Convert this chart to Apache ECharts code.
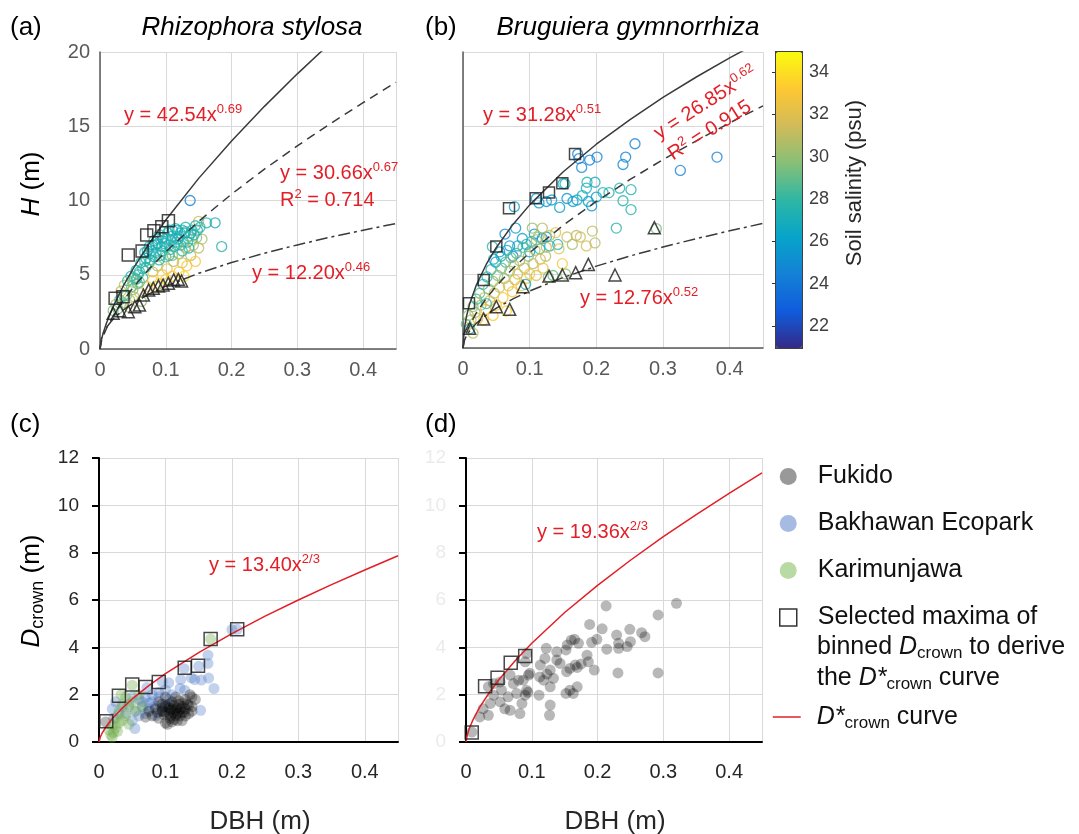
<!DOCTYPE html>
<html>
<head>
<meta charset="utf-8">
<script src="https://cdn.jsdelivr.net/npm/echarts@6/dist/echarts.min.js"></script>
<style>
  html, body { margin: 0; padding: 0; background: #fff; }
  #grafico { width: 1079px; height: 834px; }
</style>
</head>
<body>
<div id="grafico"></div>
<script>
// Paleta tipo parula para la salinidad del suelo (psu)
const parula = ['#352a87', '#0f5cdd', '#1481d6', '#06a4ca', '#2eb7a4', '#87bf77', '#d1bb59', '#fec832', '#f9fb0e'];
const salMin = 21, salMax = 35;
const salTicks = [22, 24, 26, 28, 30, 32, 34];

// Puntos leídos sobre las curvas ajustadas
const curvaX = [0, 0.002, 0.005, 0.01, 0.02, 0.035, 0.05, 0.075, 0.1, 0.15, 0.2, 0.25, 0.3, 0.35, 0.4, 0.45];
const aMax = [0, 0.58, 1.10, 1.77, 2.86, 4.21, 5.38, 7.12, 8.69, 11.49, 14.01, 16.34, 18.53, 20.6, 22.6, 24.5];
const aMedia = [0, 0.48, 0.88, 1.40, 2.23, 3.24, 4.12, 5.41, 6.55, 8.60, 10.43, 12.11, 13.68, 15.17, 16.59, 17.96];
const aMin = [0, 0.70, 1.07, 1.47, 2.02, 2.61, 3.08, 3.71, 4.23, 5.10, 5.82, 6.45, 7.01, 7.53, 8.00, 8.45];
const bMax = [0, 1.31, 2.10, 2.99, 4.25, 5.66, 6.79, 8.35, 9.67, 11.89, 13.77, 15.42, 16.93, 18.31, 19.60, 20.82];
const bMedia = [0, 0.57, 1.00, 1.54, 2.37, 3.36, 4.19, 5.39, 6.44, 8.28, 9.90, 11.37, 12.73, 14.00, 15.21, 16.36];
const bMin = [0, 0.50, 0.81, 1.16, 1.67, 2.23, 2.69, 3.32, 3.85, 4.76, 5.53, 6.21, 6.82, 7.39, 7.92, 8.42];
const cCurva = [0, 0.21, 0.39, 0.62, 0.99, 1.43, 1.82, 2.38, 2.89, 3.78, 4.58, 5.32, 6.00, 6.65, 7.27, 7.87];
const dCurva = [0, 0.31, 0.57, 0.90, 1.43, 2.07, 2.63, 3.44, 4.17, 5.47, 6.62, 7.68, 8.68, 9.61, 10.51, 11.37];

// (a) Rhizophora stylosa
const aDbh = [0.020, 0.024, 0.027, 0.030, 0.032, 0.035, 0.037, 0.040, 0.042, 0.045,
  0.047, 0.050, 0.052, 0.055, 0.057, 0.060, 0.062, 0.065, 0.068, 0.070,
  0.072, 0.075, 0.077, 0.080, 0.080, 0.082, 0.085, 0.087, 0.090, 0.090,
  0.093, 0.095, 0.097, 0.100, 0.100, 0.102, 0.105, 0.107, 0.110, 0.110,
  0.112, 0.115, 0.117, 0.120, 0.120, 0.122, 0.125, 0.127, 0.130, 0.130,
  0.132, 0.135, 0.137, 0.138, 0.140, 0.142, 0.145, 0.147, 0.150, 0.150,
  0.152, 0.155, 0.162, 0.175, 0.185, 0.128, 0.063, 0.045, 0.036, 0.058,
  0.075, 0.095, 0.085, 0.070, 0.088, 0.105, 0.118, 0.125, 0.140, 0.110,
  0.060, 0.050, 0.100, 0.145,
  0.078, 0.083, 0.088, 0.092, 0.098, 0.103, 0.108, 0.113, 0.118, 0.123,
  0.128, 0.133, 0.138, 0.143, 0.148, 0.065, 0.072, 0.080, 0.055, 0.048,
  0.090, 0.095, 0.100, 0.105, 0.110, 0.115, 0.120, 0.125, 0.130, 0.135,
  0.085, 0.075, 0.068, 0.060, 0.052];
const aAltura = [2.6, 3.0, 2.7, 3.3, 3.9, 3.1, 4.3, 3.6, 4.6, 3.3,
  4.9, 4.0, 3.5, 5.3, 4.4, 3.8, 5.8, 4.8, 6.5, 5.5,
  4.2, 6.9, 6.0, 4.6, 5.2, 7.3, 6.5, 5.6, 7.7, 4.4,
  6.9, 5.0, 7.9, 6.2, 7.4, 5.4, 8.0, 6.7, 4.9, 7.6,
  5.9, 8.1, 7.0, 6.4, 5.2, 7.8, 5.8, 7.2, 8.2, 6.8,
  5.6, 7.6, 10.0, 6.3, 8.0, 7.0, 5.9, 7.5, 8.6, 6.8,
  8.2, 7.4, 8.5, 8.5, 6.9, 4.9, 3.2, 2.8, 3.6, 5.0,
  5.8, 6.6, 4.2, 6.1, 7.1, 7.0, 7.4, 8.0, 7.4, 6.3,
  4.5, 4.5, 4.7, 8.3,
  6.6, 6.2, 7.4, 6.3, 7.1, 7.8, 7.3, 6.9, 8.0, 7.0,
  7.8, 7.2, 7.8, 7.7, 8.0, 5.4, 6.6, 7.0, 4.7, 4.2,
  6.0, 7.5, 6.9, 6.3, 8.0, 7.2, 7.6, 6.6, 7.9, 6.8,
  7.0, 6.4, 5.9, 5.2, 4.8];
const aSalinidad = [29.5, 30, 29, 28.5, 31, 30, 31, 29, 28, 30.5,
  28, 29.5, 31, 27.5, 28.5, 32, 27.5, 28, 27.5, 28,
  33, 27.5, 28, 33, 32, 27.5, 28, 30, 27.5, 33.5,
  28, 33, 27.5, 29, 28, 32.5, 27.5, 28, 33, 27.5,
  31, 27.5, 28.5, 30, 33, 27.5, 32, 29, 28, 30.5,
  33, 28, 24.5, 31, 27.5, 30.5, 33, 30, 31.5, 31,
  28, 30.5, 27.5, 27, 27.5, 34, 30, 31, 28, 27.5,
  28.5, 27.5, 31, 27, 27, 27.5, 27, 27.5, 29, 29.5,
  29, 30.5, 33.5, 27.5,
  27.5, 27, 27.5, 28, 27, 27.5, 27, 27.5, 27, 27.5,
  27, 27.5, 27, 27.5, 27, 28, 27, 27, 28, 29,
  27.5, 27, 27.5, 28, 27, 27.5, 27, 28, 27.5, 28,
  27, 27.5, 28, 28, 28.5];
const aCuadX = [0.023, 0.035, 0.043, 0.064, 0.071, 0.082, 0.094, 0.104];
const aCuadY = [3.41, 3.52, 6.33, 6.60, 7.68, 7.96, 8.24, 8.64];
const aTriX = [0.020, 0.030, 0.043, 0.053, 0.060, 0.066, 0.074, 0.081, 0.089, 0.096, 0.104, 0.112, 0.119, 0.124];
const aTriY = [2.40, 2.58, 2.51, 2.85, 2.96, 3.63, 3.97, 4.09, 4.24, 4.31, 4.42, 4.65, 4.69, 4.58];

// (b) Bruguiera gymnorrhiza
const bDbh = [0.258, 0.244, 0.240, 0.201, 0.190, 0.178, 0.174, 0.326, 0.381, 0.172,
  0.077, 0.114, 0.125, 0.133, 0.145, 0.156, 0.165, 0.171, 0.179, 0.186,
  0.198, 0.193, 0.188, 0.210, 0.219, 0.235, 0.240, 0.252, 0.252, 0.230,
  0.153, 0.200, 0.185, 0.110, 0.150, 0.079, 0.089, 0.107, 0.119, 0.130,
  0.142, 0.100, 0.082, 0.075, 0.044, 0.063, 0.055, 0.046, 0.070, 0.095,
  0.115, 0.125, 0.104, 0.119, 0.139, 0.156, 0.176, 0.194, 0.198, 0.164,
  0.144, 0.124, 0.149, 0.154, 0.135, 0.290, 0.110, 0.130, 0.170, 0.185,
  0.005, 0.008, 0.012, 0.015, 0.018, 0.020, 0.022, 0.025, 0.027, 0.030,
  0.032, 0.034, 0.036, 0.038, 0.040, 0.042, 0.045, 0.047, 0.049, 0.050,
  0.052, 0.055, 0.057, 0.058, 0.060, 0.062, 0.064, 0.066, 0.068, 0.070,
  0.072, 0.074, 0.076, 0.078, 0.080, 0.082, 0.085, 0.087, 0.090, 0.092,
  0.095, 0.098, 0.100, 0.103, 0.105, 0.108, 0.110, 0.113, 0.116, 0.120,
  0.125, 0.128, 0.035, 0.031, 0.045, 0.065, 0.010, 0.015, 0.094];
const bAltura = [13.8, 12.9, 12.4, 12.9, 12.7, 12.2, 12.8, 12.0, 12.9, 13.1,
  9.55, 9.8, 9.9, 10.0, 9.5, 10.1, 9.9, 10.0, 10.3, 11.2,
  11.2, 9.6, 9.9, 10.5, 10.5, 10.8, 9.95, 10.7, 9.35, 8.1,
  11.1, 10.2, 10.8, 10.1, 11.1, 8.1, 7.4, 7.7, 7.4, 6.9,
  7.0, 6.5, 6.9, 6.2, 6.85, 7.7, 6.5, 6.0, 6.9, 7.0,
  6.7, 7.5, 8.1, 8.1, 7.8, 7.5, 7.5, 7.9, 7.1, 7.0,
  6.7, 6.2, 5.7, 5.0, 4.9, 8.06, 7.3, 7.6, 7.6, 6.9,
  1.6, 2.2, 1.9, 2.8, 2.4, 3.3, 2.0, 3.7, 2.9, 4.3,
  3.4, 2.6, 4.8, 4.0, 3.2, 5.3, 4.5, 3.7, 5.8, 2.9,
  4.9, 4.1, 6.2, 5.4, 3.4, 4.7, 5.8, 6.6, 4.2, 5.2,
  6.1, 3.8, 5.6, 4.6, 6.4, 5.0, 5.9, 4.2, 6.8, 5.4,
  4.7, 6.2, 5.0, 7.2, 5.7, 6.6, 4.9, 7.5, 6.0, 5.4,
  6.8, 4.8, 3.0, 1.9, 2.2, 2.5, 1.3, 1.0, 4.3];
const bSalinidad = [24.5, 24.5, 25, 24.5, 24.5, 25, 24.5, 24.5, 24.5, 24.5,
  26, 25.5, 25.5, 26, 26, 25.5, 26, 26, 27, 27.5,
  27, 25.5, 26, 27.5, 27.5, 27.5, 27.5, 27.5, 27.5, 27.5,
  27, 26, 27, 25.5, 27, 25.5, 26, 25.5, 25.5, 27,
  27.5, 26, 26, 25, 28, 25, 25.5, 27, 25.5, 27,
  27.5, 26, 30, 31, 32, 31.5, 31.5, 31, 31, 30.5,
  32, 31, 33, 30, 29, 29.5, 30.5, 31, 31, 31.5,
  29, 30, 31, 29.5, 30.5, 28, 32, 29, 30, 27.5,
  31, 32.5, 27.5, 30, 31.5, 27.5, 29.5, 31, 26, 33,
  30, 31.5, 27, 29, 33, 30.5, 28.5, 26.5, 32, 30,
  29, 33, 31, 31.5, 28, 32, 30.5, 33, 29, 31,
  32, 30, 33, 28, 31, 30.5, 32, 30, 31.5, 32.5,
  31, 30, 28, 33, 33, 33.5, 28, 31, 27];
const bCuadX = [0.009, 0.031, 0.050, 0.069, 0.109, 0.129, 0.149, 0.168];
const bCuadY = [3.02, 4.59, 6.85, 9.44, 10.11, 10.50, 11.13, 13.11];
const bTriX = [0.010, 0.031, 0.050, 0.070, 0.090, 0.129, 0.149, 0.169, 0.188, 0.228, 0.287];
const bTriY = [1.33, 1.96, 2.79, 2.61, 4.14, 4.86, 4.93, 5.09, 5.65, 4.93, 8.13];

// (c) D_crown por sitio
const cFukX = [0.010, 0.080, 0.085, 0.090, 0.095, 0.100, 0.100, 0.105, 0.110, 0.110,
  0.115, 0.120, 0.120, 0.125, 0.130, 0.130, 0.135, 0.140, 0.140, 0.145,
  0.107, 0.095, 0.100, 0.090, 0.075, 0.118, 0.110, 0.125, 0.115, 0.105,
  0.103, 0.112, 0.122, 0.128, 0.098, 0.088, 0.117, 0.108, 0.133, 0.070, 0.137,
  0.105, 0.112, 0.118, 0.123, 0.127, 0.108, 0.115, 0.120, 0.100, 0.113,
  0.130, 0.125, 0.095, 0.135, 0.140];
const cFukY = [0.85, 1.1, 1.4, 1.0, 1.3, 1.5, 0.8, 1.2, 1.4, 1.7,
  1.1, 1.3, 1.6, 0.9, 1.4, 1.8, 1.2, 1.5, 1.9, 1.8,
  1.0, 1.6, 1.9, 1.7, 1.3, 0.9, 0.85, 1.5, 1.9, 1.6,
  0.75, 1.25, 1.1, 1.25, 1.15, 1.25, 1.45, 1.35, 1.6, 1.05, 2.0,
  1.45, 1.55, 1.2, 1.4, 1.65, 1.1, 1.35, 1.75, 1.25, 0.95,
  1.1, 1.25, 1.45, 1.55, 1.3];
const cBakX = [0.164, 0.164, 0.128, 0.150, 0.208, 0.200, 0.144, 0.154, 0.173, 0.153,
  0.123, 0.129, 0.122, 0.139, 0.105, 0.165, 0.060, 0.065, 0.070, 0.075,
  0.080, 0.085, 0.090, 0.095, 0.100, 0.070, 0.085, 0.055, 0.060, 0.090,
  0.100, 0.105, 0.080, 0.020, 0.025, 0.030, 0.022, 0.035, 0.040, 0.045,
  0.050, 0.050, 0.054, 0.072, 0.095, 0.065, 0.075, 0.110];
const cBakY = [3.67, 3.32, 3.1, 3.2, 4.76, 4.75, 2.64, 2.62, 2.26, 1.34,
  2.64, 2.19, 2.26, 2.71, 2.5, 2.7, 1.8, 1.5, 1.9, 1.4,
  1.7, 1.5, 1.9, 1.3, 1.6, 1.2, 1.1, 1.3, 1.1, 2.1,
  2.2, 1.8, 2.0, 1.4, 1.7, 1.2, 1.0, 1.5, 1.2, 1.6,
  1.9, 0.9, 0.57, 2.3, 2.55, 1.7, 1.65, 2.0];
const cKarX = [0.015, 0.018, 0.020, 0.022, 0.025, 0.025, 0.030, 0.030, 0.035, 0.035,
  0.040, 0.040, 0.045, 0.050, 0.050, 0.055, 0.060, 0.065, 0.020, 0.028,
  0.168, 0.033, 0.045];
const cKarY = [0.5, 0.3, 0.7, 0.4, 1.0, 0.6, 0.8, 1.3, 1.6, 0.9,
  1.9, 1.1, 1.5, 2.4, 1.7, 1.3, 2.0, 1.5, 0.2, 0.45,
  4.35, 2.0, 0.75];
const cCuadX = [0.011, 0.030, 0.050, 0.070, 0.090, 0.129, 0.149, 0.168, 0.208];
const cCuadY = [0.88, 1.95, 2.43, 2.32, 2.54, 3.14, 3.22, 4.35, 4.76];

// (d) D_crown Fukido
const dFukX = [0.320, 0.213, 0.292, 0.188, 0.207, 0.229, 0.249, 0.267, 0.272, 0.250,
  0.232, 0.214, 0.199, 0.191, 0.232, 0.245, 0.165, 0.171, 0.154, 0.152,
  0.138, 0.122, 0.138, 0.120, 0.113, 0.184, 0.186, 0.166, 0.169, 0.158,
  0.153, 0.143, 0.195, 0.128, 0.123, 0.133, 0.118, 0.112, 0.169, 0.158,
  0.163, 0.152, 0.128, 0.111, 0.128, 0.127, 0.231, 0.292, 0.092, 0.090,
  0.095, 0.087, 0.092, 0.090, 0.085, 0.077, 0.080, 0.072, 0.067, 0.064,
  0.067, 0.082, 0.059, 0.054, 0.052, 0.042, 0.037, 0.052, 0.042, 0.034,
  0.026, 0.034, 0.021, 0.009, 0.097, 0.094, 0.160, 0.175];
const dFukY = [5.86, 5.75, 5.37, 4.97, 4.78, 4.52, 4.76, 4.62, 4.45, 4.24,
  4.17, 3.92, 4.34, 4.21, 3.96, 4.03, 4.34, 4.17, 4.10, 3.89,
  3.81, 3.96, 3.46, 3.53, 3.25, 3.67, 3.39, 3.25, 3.15, 3.11,
  2.97, 3.32, 3.04, 3.04, 2.87, 2.69, 2.61, 2.75, 2.33, 2.19,
  2.05, 2.05, 2.33, 1.98, 1.56, 1.13, 2.92, 2.92, 3.74, 3.39,
  2.83, 2.61, 2.19, 1.98, 1.63, 2.05, 2.61, 2.47, 2.83, 1.91,
  1.34, 1.20, 1.40, 2.19, 2.54, 1.98, 1.63, 1.70, 2.47, 2.33,
  1.40, 1.13, 1.06, 0.42, 2.9, 2.1, 4.3, 3.3];
const dCuadX = [0.0087, 0.029, 0.048, 0.068, 0.090];
const dCuadY = [0.40, 2.36, 2.71, 3.35, 3.63];

const fuente = "'Liberation Sans', Arial, sans-serif";
const rojo = '#e31e26';
const gris = '#595959';

function serieCirculos(gi, xs, ys, ss) {
  return {
    type: 'scatter', xAxisIndex: gi, yAxisIndex: gi, symbol: 'circle', symbolSize: 10, z: 2, silent: true,
    data: xs.map((x, i) => ({
      value: [x, ys[i]],
      itemStyle: { color: 'rgba(0,0,0,0)', borderColor: echarts.color.lerp((ss[i] - salMin) / (salMax - salMin), parula), borderWidth: 1.3 }
    }))
  };
}

function serieMarcas(gi, xs, ys, simbolo, tam, nombre) {
  return {
    name: nombre, type: 'scatter', xAxisIndex: gi, yAxisIndex: gi, symbol: simbolo, symbolSize: tam, z: 4, silent: true,
    itemStyle: { color: 'rgba(0,0,0,0)', borderColor: '#1a1a1a', borderWidth: 1.5 },
    data: xs.map((x, i) => [x, ys[i]])
  };
}

function serieSitio(gi, nombre, xs, ys, color) {
  return {
    name: nombre, type: 'scatter', xAxisIndex: gi, yAxisIndex: gi, symbol: 'circle', symbolSize: 11, z: 2, silent: true,
    itemStyle: { color: color }, data: xs.map((x, i) => [x, ys[i]])
  };
}

function serieCurva(gi, ys, tipo, color, nombre) {
  return {
    name: nombre, type: 'line', xAxisIndex: gi, yAxisIndex: gi, symbol: 'none', showSymbol: false, smooth: false,
    clip: true, z: 3, silent: true,
    lineStyle: { color: color, width: 1.5, type: tipo },
    data: curvaX.map((x, i) => [x, ys[i]])
  };
}

function ejeX(gi, colorEje, anchoEje, margen, colorTexto) {
  return {
    gridIndex: gi, type: 'value', min: 0, max: 0.45, interval: 0.1,
    axisLine: { show: true, onZero: false, lineStyle: { color: colorEje, width: anchoEje } },
    axisTick: { show: false },
    axisLabel: { fontSize: 20, color: colorTexto, margin: margen, fontFamily: fuente, showMaxLabel: false },
    splitLine: { show: true, lineStyle: { color: '#d9d9d9', width: 1 } }
  };
}

function ejeY(gi, max, intervalo, opts) {
  return {
    gridIndex: gi, type: 'value', min: 0, max: max, interval: intervalo,
    axisLine: { show: true, onZero: false, lineStyle: { color: opts.colorEje, width: opts.anchoEje } },
    axisTick: opts.tick ? { show: true, inside: false, length: 7, lineStyle: { color: opts.colorEje, width: 2 } } : { show: false },
    axisLabel: { show: opts.etiquetas, fontSize: opts.tam, color: opts.colorTexto, margin: opts.margen, fontFamily: fuente },
    splitLine: { show: true, lineStyle: { color: '#d9d9d9', width: 1 } }
  };
}

function texto(x, y, t, estilo, rot) {
  return {
    type: 'text', x: x, y: y, rotation: rot || 0, silent: true, z: 10,
    style: Object.assign({
      text: t, fontFamily: fuente, fontSize: 20, fill: '#000',
      align: 'left', textAlign: 'left', verticalAlign: 'middle', textVerticalAlign: 'middle'
    }, estilo)
  };
}

// Estilos de texto enriquecido (superíndices / subíndices)
const estEc = {
  fill: rojo, fontSize: 20, lineHeight: 24,
  rich: { sup: { fontSize: 13, lineHeight: 14, verticalAlign: 'top', fill: rojo, fontFamily: fuente } }
};
function estCrown(tam, subTam, color) {
  return {
    fontSize: tam, lineHeight: 30, fill: color,
    rich: {
      i: { fontStyle: 'italic', fontSize: tam, fill: color, fontFamily: fuente },
      sub: { fontSize: subTam, lineHeight: 12, verticalAlign: 'bottom', fill: color, fontFamily: fuente }
    }
  };
}

const series = [];
// (a)
series.push(serieCirculos(0, aDbh, aAltura, aSalinidad));
series.push(serieCurva(0, aMax, 'solid', '#3a3a3a'));
series.push(serieCurva(0, aMedia, [9, 6], '#3a3a3a'));
series.push(serieCurva(0, aMin, [12, 4, 3, 4], '#3a3a3a'));
series.push(serieMarcas(0, aCuadX, aCuadY, 'rect', 12));
series.push(serieMarcas(0, aTriX, aTriY, 'triangle', 12));
// (b)
series.push(serieCirculos(1, bDbh, bAltura, bSalinidad));
series.push(serieCurva(1, bMax, 'solid', '#3a3a3a'));
series.push(serieCurva(1, bMedia, [9, 6], '#3a3a3a'));
series.push(serieCurva(1, bMin, [12, 4, 3, 4], '#3a3a3a'));
series.push(serieMarcas(1, bCuadX, bCuadY, 'rect', 11));
series.push(serieMarcas(1, bTriX, bTriY, 'triangle', 12));
// (c)
series.push(serieSitio(2, 'Bakhawan Ecopark', cBakX, cBakY, 'rgba(68,114,196,0.4)'));
series.push(serieSitio(2, 'Karimunjawa', cKarX, cKarY, 'rgba(112,173,71,0.45)'));
series.push(serieSitio(2, 'Fukido', cFukX, cFukY, 'rgba(0,0,0,0.35)'));
series.push(serieCurva(2, cCurva, 'solid', rojo, 'D*crown curve'));
series.push(serieMarcas(2, cCuadX, cCuadY, 'rect', 13, 'Selected maxima'));
// (d)
series.push(serieSitio(3, 'Fukido', dFukX, dFukY, 'rgba(0,0,0,0.35)'));
series.push(serieCurva(3, dCurva, 'solid', rojo, 'D*crown curve'));
series.push(serieMarcas(3, dCuadX, dCuadY, 'rect', 13, 'Selected maxima'));
// serie vacía para la barra de color
series.push({ name: 'salinidad', type: 'scatter', xAxisIndex: 4, yAxisIndex: 4, data: [] });
const idxBarra = series.length - 1;

const grafico = echarts.init(document.getElementById('grafico'));

grafico.setOption({
  animation: false,
  backgroundColor: '#fff',
  textStyle: { fontFamily: fuente },
  grid: [
    { left: 100, top: 52, width: 296, height: 297, outerBoundsMode: 'none' },
    { left: 463, top: 52, width: 300, height: 296, outerBoundsMode: 'none' },
    { left: 99, top: 458, width: 299, height: 284, outerBoundsMode: 'none' },
    { left: 466, top: 458, width: 296, height: 284, outerBoundsMode: 'none' },
    { left: 775, top: 51, width: 26, height: 296, outerBoundsMode: 'none' }
  ],
  xAxis: [
    ejeX(0, gris, 1.5, 11, gris),
    ejeX(1, gris, 1.5, 11, gris),
    ejeX(2, '#000', 2, 20, '#262626'),
    ejeX(3, '#000', 2, 20, '#262626'),
    { gridIndex: 4, type: 'value', min: 0, max: 1, show: false }
  ],
  yAxis: [
    ejeY(0, 20, 5, { colorEje: gris, anchoEje: 1.5, etiquetas: true, tam: 20, colorTexto: gris, margen: 10 }),
    ejeY(1, 20, 5, { colorEje: gris, anchoEje: 1.5, etiquetas: false, tam: 20, colorTexto: gris, margen: 10 }),
    ejeY(2, 12, 2, { colorEje: '#000', anchoEje: 2, tick: true, etiquetas: true, tam: 19, colorTexto: '#262626', margen: 20 }),
    ejeY(3, 12, 2, { colorEje: '#000', anchoEje: 2, tick: true, etiquetas: true, tam: 19, colorTexto: '#ebebeb', margen: 20 }),
    {
      gridIndex: 4, type: 'value', min: salMin, max: salMax, position: 'right',
      axisLine: { show: false },
      axisTick: { show: true, inside: true, length: 3, customValues: salTicks, lineStyle: { color: '#333' } },
      axisLabel: { customValues: salTicks, fontSize: 18, color: '#404040', margin: 8, fontFamily: fuente },
      splitLine: { show: false }
    }
  ],
  visualMap: {
    type: 'continuous', min: salMin, max: salMax, seriesIndex: idxBarra,
    left: 775, top: 51, itemWidth: 26, itemHeight: 296, padding: 0,
    calculable: false, hoverLink: false,
    borderColor: '#404040', borderWidth: 2,
    inRange: { color: parula }
  },
  legend: [
    {
      orient: 'vertical', left: 779, top: 464, padding: 0, itemWidth: 17, itemHeight: 17, itemGap: 22,
      selectedMode: false,
      textStyle: { fontSize: 25, lineHeight: 25, color: '#111', padding: [0, 0, 0, 16], fontFamily: fuente },
      formatter: n => n === 'Selected maxima' ? 'Selected maxima of' : n,
      data: [
        { name: 'Fukido', icon: 'circle', itemStyle: { color: '#7f7f7f' } },
        { name: 'Bakhawan Ecopark', icon: 'circle', itemStyle: { color: '#8eaadb' } },
        { name: 'Karimunjawa', icon: 'circle', itemStyle: { color: '#a9d18e' } },
        { name: 'Selected maxima', icon: 'rect', itemStyle: { color: 'rgba(0,0,0,0)', borderColor: '#000', borderWidth: 1.5 } }
      ]
    },
    {
      orient: 'vertical', left: 772, top: 702, padding: 0, itemWidth: 28, itemHeight: 14,
      selectedMode: false,
      textStyle: {
        fontSize: 25, lineHeight: 30, color: '#111', padding: [0, 0, 0, 11], fontFamily: fuente,
        rich: {
          i: { fontStyle: 'italic', fontSize: 25, color: '#111', fontFamily: fuente },
          sub: { fontSize: 17, lineHeight: 12, verticalAlign: 'bottom', color: '#111', fontFamily: fuente }
        }
      },
      formatter: () => '{i|D*}{sub|crown} curve',
      data: [{ name: 'D*crown curve', itemStyle: { opacity: 0 }, lineStyle: { color: rojo, width: 1.5 } }]
    }
  ],
  graphic: {
    elements: [
      // Títulos de panel
      texto(10, 28, '(a)', { fontSize: 26 }),
      texto(252, 28, 'Rhizophora stylosa', { fontSize: 26, fontStyle: 'italic', align: 'center', textAlign: 'center' }),
      texto(425, 28, '(b)', { fontSize: 26 }),
      texto(628, 28, 'Bruguiera gymnorrhiza', { fontSize: 26, fontStyle: 'italic', align: 'center', textAlign: 'center' }),
      texto(10, 425, '(c)', { fontSize: 26 }),
      texto(425, 425, '(d)', { fontSize: 26 }),
      // Títulos de ejes
      texto(32, 184, '{i|H} (m)', Object.assign(estCrown(26, 18, '#000'), { align: 'center', textAlign: 'center' }), Math.PI / 2),
      texto(32, 591, '{i|D}{sub|crown} (m)', Object.assign(estCrown(26, 18, '#000'), { align: 'center', textAlign: 'center' }), Math.PI / 2),
      texto(260, 822, 'DBH (m)', { fontSize: 26, fill: '#262626', align: 'center', textAlign: 'center' }),
      texto(615, 822, 'DBH (m)', { fontSize: 26, fill: '#262626', align: 'center', textAlign: 'center' }),
      texto(855, 183, 'Soil salinity (psu)', { fontSize: 22, fill: '#262626', align: 'center', textAlign: 'center' }, Math.PI / 2),
      // Ecuaciones
      texto(124, 115, 'y = 42.54x{sup|0.69}', estEc),
      texto(280, 173, 'y = 30.66x{sup|0.67}', estEc),
      texto(280, 200, 'R{sup|2} = 0.714', estEc),
      texto(252, 273, 'y = 12.20x{sup|0.46}', estEc),
      texto(483, 115, 'y = 31.28x{sup|0.51}', estEc),
      texto(656, 135, 'y = 26.85x{sup|0.62}', estEc, 0.57),
      texto(670, 156, 'R{sup|2} = 0.915', estEc, 0.57),
      texto(580, 298, 'y = 12.76x{sup|0.52}', estEc),
      texto(209, 565, 'y = 13.40x{sup|2/3}', estEc),
      texto(537, 532, 'y = 19.36x{sup|2/3}', estEc),
      // Continuación del texto de la leyenda
      texto(817, 647, 'binned {i|D}{sub|crown} to derive', estCrown(25, 17, '#111')),
      texto(817, 678, 'the {i|D*}{sub|crown} curve', estCrown(25, 17, '#111'))
    ]
  },
  series: series
});
</script>
</body>
</html>
